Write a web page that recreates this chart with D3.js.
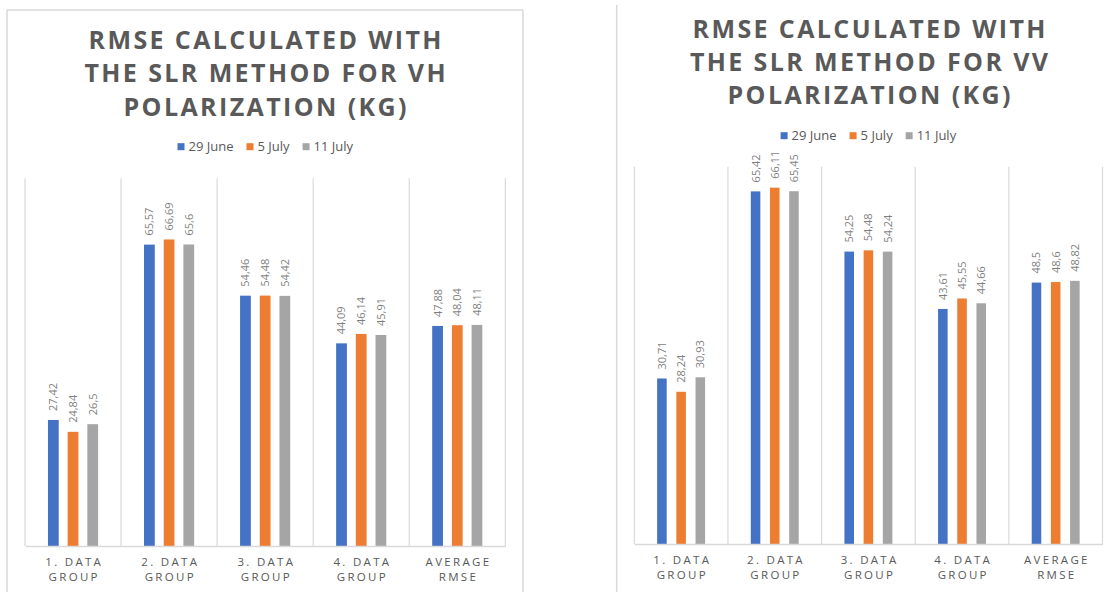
<!DOCTYPE html>
<html>
<head>
<meta charset="utf-8">
<script src="https://cdn.jsdelivr.net/npm/d3@7"></script>
<style>
  html, body { margin: 0; padding: 0; background: #ffffff; }
  svg { display: block; }
  text { font-family: "Open Sans", "Liberation Sans", sans-serif; }
</style>
</head>
<body>
<svg id="chart" width="1116" height="592"></svg>
<script>
// Categories (two-line tick labels) and series names
const categories = ["1. DATA GROUP", "2. DATA GROUP", "3. DATA GROUP", "4. DATA GROUP", "AVERAGE RMSE"];
const tickLines = [["1. DATA", "GROUP"], ["2. DATA", "GROUP"], ["3. DATA", "GROUP"], ["4. DATA", "GROUP"], ["AVERAGE", "RMSE"]];
const seriesNames = ["29 June", "5 July", "11 July"];
const seriesColors = ["#4472C4", "#ED7D31", "#A5A5A5"];

// RMSE (kg), VH polarization
const vh29June = [27.42, 65.57, 54.46, 44.09, 47.88];
const vh5July  = [24.84, 66.69, 54.48, 46.14, 48.04];
const vh11July = [26.5, 65.6, 54.42, 45.91, 48.11];

// RMSE (kg), VV polarization
const vv29June = [30.71, 65.42, 54.25, 43.61, 48.5];
const vv5July  = [28.24, 66.11, 54.48, 45.55, 48.6];
const vv11July = [30.93, 65.45, 54.24, 44.66, 48.82];

const titleVH = ["RMSE CALCULATED WITH", "THE SLR METHOD FOR VH", "POLARIZATION (KG)"];
const titleVV = ["RMSE CALCULATED WITH", "THE SLR METHOD FOR VV", "POLARIZATION (KG)"];

const svg = d3.select("#chart");

function fmt(v) { return String(v).replace(".", ","); }

function drawChart(cfg) {
  const g = svg.append("g");
  const series = [cfg.s1, cfg.s2, cfg.s3];

  // chart frame
  const frame = g.append("g").attr("stroke", "#d9d9d9").attr("stroke-width", 1.5).attr("fill", "none");
  cfg.frameLines.forEach(l => frame.append("line").attr("x1", l[0]).attr("y1", l[1]).attr("x2", l[2]).attr("y2", l[3]));

  // title
  const title = g.append("text")
    .attr("text-anchor", "middle")
    .attr("fill", "#595959")
    .attr("font-weight", 700)
    .attr("font-size", 25)
    .attr("letter-spacing", "2.4px");
  cfg.title.forEach((t, i) => {
    title.append("tspan").attr("x", cfg.cx + 1.2).attr("y", cfg.titleY + i * cfg.titleStep).text(t);
  });

  // legend
  const legend = g.append("g").attr("font-size", 13).attr("fill", "#595959");
  let lx = cfg.legendX;
  seriesNames.forEach((name, i) => {
    legend.append("rect").attr("x", lx).attr("y", cfg.legendY - 3.5).attr("width", 7).attr("height", 7).attr("fill", seriesColors[i]);
    const t = legend.append("text").attr("x", lx + 11).attr("y", cfg.legendY).attr("dy", "0.35em").text(name);
    lx += 11 + t.node().getComputedTextLength() + 13;
  });

  // scales
  const x = d3.scaleBand().domain(categories).range([cfg.left, cfg.right]).padding(0);
  const bw = x.bandwidth();
  const pi = 1 - cfg.barRatio / 0.205;
  const po = (1 / 0.205 - 3 + pi) / 2;
  const xs = d3.scaleBand().domain([0, 1, 2]).range([0, bw]).paddingInner(pi).paddingOuter(po);
  const y = d3.scaleLinear().domain([0, cfg.yMax]).range([cfg.bottom, cfg.top]);

  // vertical category gridlines
  const grid = g.append("g").attr("stroke", "#d9d9d9").attr("stroke-width", 1.2);
  categories.concat([null]).forEach(c => {
    const gx = c === null ? cfg.right : x(c);
    grid.append("line").attr("x1", gx).attr("x2", gx).attr("y1", y(cfg.yMax)).attr("y2", y(0));
  });

  // bars
  series.forEach((vals, si) => {
    g.append("g").selectAll("rect").data(vals).join("rect")
      .attr("x", (d, i) => x(categories[i]) + xs(si))
      .attr("y", d => y(d))
      .attr("width", xs.bandwidth())
      .attr("height", d => y(0) - y(d))
      .attr("fill", seriesColors[si]);
  });

  // value labels, rotated above each bar
  series.forEach((vals, si) => {
    g.append("g").selectAll("text").data(vals).join("text")
      .attr("transform", (d, i) => `translate(${x(categories[i]) + xs(si) + xs.bandwidth() / 2},${y(d) - 9}) rotate(-90)`)
      .attr("dy", "0.36em")
      .attr("font-size", 11)
      .attr("fill", "#7f7f7f")
      .text(d => fmt(d));
  });

  // x axis
  const axis = d3.axisBottom(x).tickSize(0).tickFormat("");
  const ax = g.append("g").attr("transform", `translate(0,${y(0)})`).call(axis);
  ax.select(".domain").attr("stroke", "#d9d9d9").attr("stroke-width", 1.5);
  ax.selectAll(".tick").each(function (c) {
    const lines = tickLines[categories.indexOf(c)];
    const t = d3.select(this).append("text")
      .attr("fill", "#595959")
      .attr("font-size", 11.5)
      .attr("letter-spacing", "2.3px")
      .attr("text-anchor", "middle");
    lines.forEach((ln, i) => {
      t.append("tspan").attr("x", 1.2).attr("y", cfg.tickY + i * 14.5).attr("dy", "0.35em").text(ln);
    });
  });
}

drawChart({
  s1: vh29June, s2: vh5July, s3: vh11July,
  title: titleVH,
  frameLines: [[7, 10, 523, 10], [7, 10, 7, 600], [523, 10, 523, 600]],
  cx: 265, titleY: 48.5, titleStep: 33.6,
  legendX: 177.5, legendY: 146.7,
  left: 25, right: 505.3, top: 178.3, bottom: 546, yMax: 80,
  barRatio: 0.112, tickY: 16
});

drawChart({
  s1: vv29June, s2: vv5July, s3: vv11July,
  title: titleVV,
  frameLines: [[616.7, 5, 616.7, 600]],
  cx: 869, titleY: 37.5, titleStep: 33,
  legendX: 780.6, legendY: 135.7,
  left: 634.3, right: 1102.5, top: 166.7, bottom: 544, yMax: 70,
  barRatio: 0.102, tickY: 16
});
</script>
</body>
</html>
